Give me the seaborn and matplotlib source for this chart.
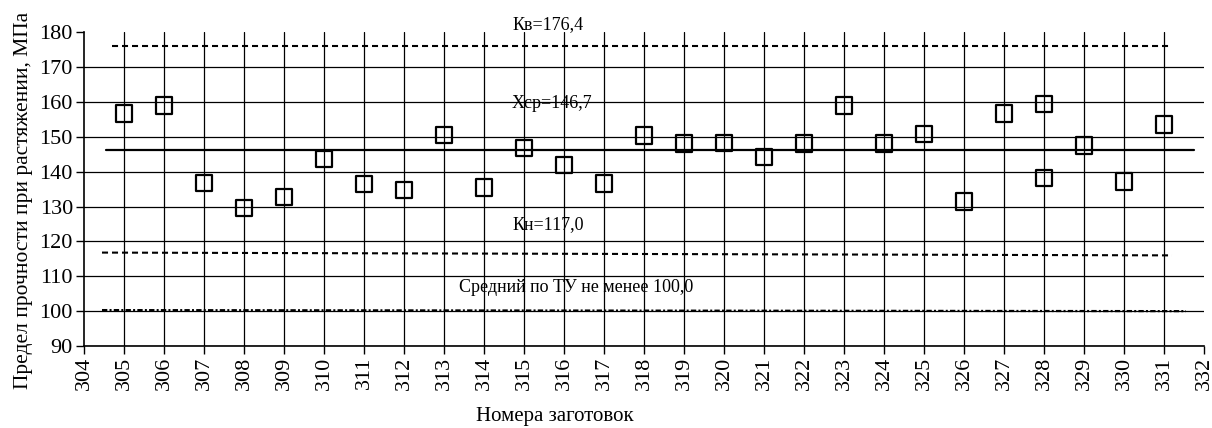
import matplotlib
matplotlib.use("Agg")
import matplotlib.pyplot as plt
import seaborn as sns
import pandas as pd
import numpy as np

# Data
blanks = [305, 306, 307, 308, 309, 310, 311, 312, 313, 314, 315, 316, 317, 318,
          319, 320, 321, 322, 323, 324, 325, 326, 327, 328, 328, 329, 330, 331]
strength = [156.7, 159.0, 136.8, 129.6, 132.8, 143.6, 136.4, 134.7, 150.5, 135.5,
            146.8, 142.0, 136.6, 150.4, 148.1, 148.3, 144.2, 148.1, 159.0, 148.1,
            150.8, 131.5, 156.7, 159.5, 138.2, 147.5, 137.2, 153.6]

k_upper = 176.0
x_mean = 146.1
k_lower = [116.8, 116.0]
spec_min = [100.3, 100.0]

label_upper = "Кв=176,4"
label_mean = "Хср=146,7"
label_lower = "Кн=117,0"
label_spec = "Средний по ТУ не менее 100,0"
xlabel = "Номера заготовок"
ylabel = "Предел прочности при растяжении, МПа"

xticks = list(range(304, 333))
yticks = list(range(90, 181, 10))

df = pd.DataFrame({"blank": blanks, "strength": strength})

sns.set_theme(style="white")
plt.rcParams["font.family"] = ["Liberation Serif", "DejaVu Serif"]

fig = plt.figure(figsize=(12.12, 4.28), dpi=100)
ax = fig.add_axes([0.0693, 0.1916, 0.9241, 0.7329])

ax.set_xlim(304, 332)
ax.set_ylim(90, 180)
ax.set_xticks(xticks)
ax.set_yticks(yticks)
ax.tick_params(axis="x", labelrotation=90, labelsize=16, direction="out", length=6,
               width=1, color="black", pad=2, bottom=True)
ax.tick_params(axis="y", labelsize=16, direction="out", length=6, width=1,
               color="black", pad=2, left=True)

ax.grid(True, color="black", linewidth=0.9)
ax.set_axisbelow(True)
for gl, v in zip(ax.xaxis.get_gridlines(), xticks):
    if v in (304, 332):
        gl.set_visible(False)
for gl, v in zip(ax.yaxis.get_gridlines(), yticks):
    if v == 180:
        gl.set_visible(False)

for side in ("top", "right"):
    ax.spines[side].set_visible(False)
for side in ("left", "bottom"):
    ax.spines[side].set_color("black")
    ax.spines[side].set_linewidth(1.2)

# Reference lines
ax.plot([304.7, 331.2], [k_upper, k_upper], color="black", lw=1.5, ls=(0, (2.9, 1.9)))
ax.plot([304.55, 331.75], [x_mean, x_mean], color="black", lw=1.6, ls="-")
ax.plot([304.45, 331.2], k_lower, color="black", lw=1.5, ls=(0, (2.9, 1.9)))
ax.plot([304.45, 331.55], spec_min, color="black", lw=1.6,
        ls=(0, (2.4, 1.0, 0.9, 1.0)))

sns.scatterplot(data=df, x="blank", y="strength", marker="s", s=140,
                facecolors="none", edgecolors="black", linewidth=1.6,
                ax=ax, zorder=5, legend=False)

txt_kw = dict(ha="center", va="center", fontsize=13, color="black")
ax.text(315.6, 182.3, label_upper, clip_on=False, **txt_kw)
ax.text(315.7, 159.7, label_mean, **txt_kw)
ax.text(315.6, 124.9, label_lower, **txt_kw)
ax.text(316.3, 106.9, label_spec, **txt_kw)

ax.set_xlabel(xlabel, fontsize=15, color="black", va="center")
ax.xaxis.set_label_coords(0.42, -0.226)
ax.set_ylabel(ylabel, fontsize=15.5, color="black", va="center")
ax.yaxis.set_label_coords(-0.054, 0.465)
for lab in ax.get_xticklabels() + ax.get_yticklabels():
    lab.set_color("black")

fig.savefig("out.png", dpi=100)
